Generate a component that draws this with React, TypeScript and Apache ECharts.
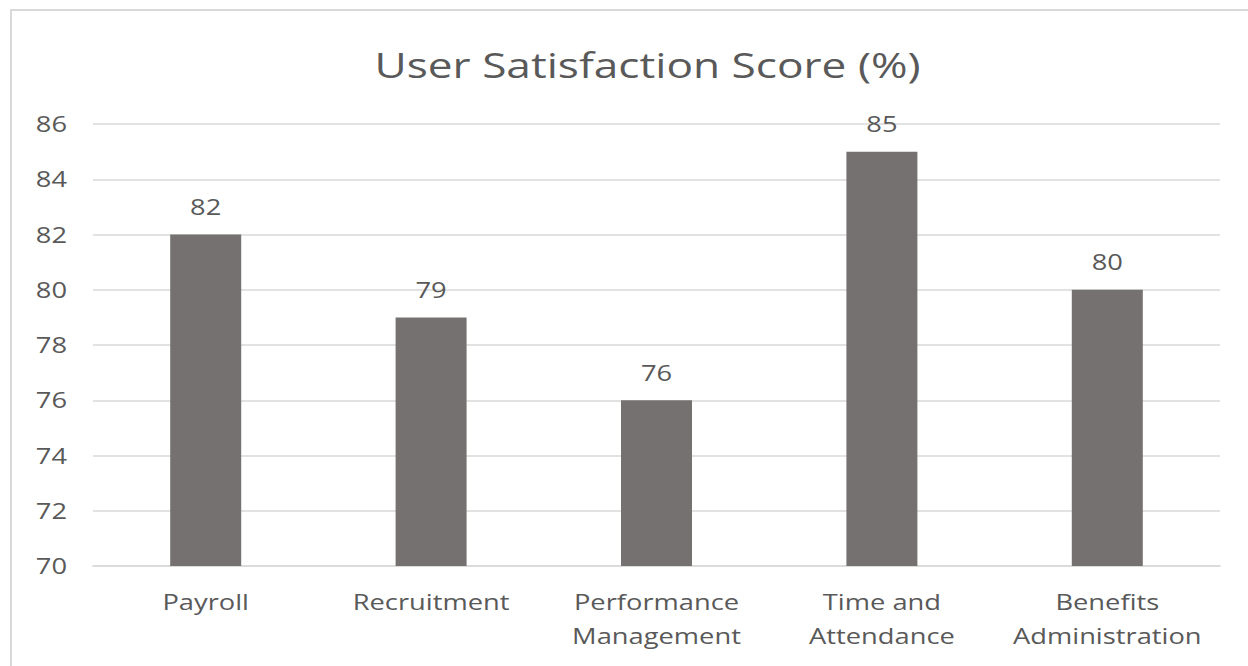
import React, { useEffect, useRef } from "react";
import * as echarts from "echarts";

const categories = ["Payroll", "Recruitment", "Performance\nManagement", "Time and\nAttendance", "Benefits\nAdministration"];
const scores = [82, 79, 76, 85, 80];
const titleText = "User Satisfaction Score (%)";

const SX = 1.3;
const W = 1248;
const H = 666;

export default function App() {
  const ref = useRef<HTMLDivElement>(null);
  useEffect(() => {
    if (!ref.current) return;
    const chart = echarts.init(ref.current, undefined, { renderer: "svg" });
    const font = "'Open Sans', 'Noto Sans', sans-serif";
    chart.setOption({
      animation: false,
      backgroundColor: "transparent",
      title: {
        text: titleText,
        left: 641 / SX,
        textAlign: "center",
        top: 43,
        textStyle: { fontFamily: font, fontSize: 34, fontWeight: "normal", color: "#595959" },
      },
      grid: { left: 93 / SX, right: 28 / SX, top: 124, bottom: 100 },
      xAxis: {
        type: "category",
        data: categories,
        axisLine: { show: true, lineStyle: { color: "#d9d9d9", width: 1.5 } },
        axisTick: { show: false },
        axisLabel: { fontFamily: font, fontSize: 21, color: "#595959", margin: 19, lineHeight: 34, interval: 0 },
      },
      yAxis: {
        type: "value",
        min: 70,
        max: 86,
        interval: 2,
        axisLine: { show: false },
        axisTick: { show: false },
        axisLabel: { fontFamily: font, fontSize: 21, color: "#595959", margin: 20 },
        splitLine: { lineStyle: { color: "#d9d9d9", width: 1.5 } },
      },
      series: [
        {
          type: "bar",
          data: scores,
          barWidth: "31.5%",
          itemStyle: { color: "#767171" },
          label: { show: true, position: "top", distance: 17, fontFamily: font, fontSize: 21, color: "#595959" },
        },
      ],
    });
    return () => chart.dispose();
  }, []);
  return (
    <div style={{ position: "fixed", left: 0, top: 0, width: W, height: H, background: "#fff", overflow: "hidden" }}>
      <div style={{ position: "absolute", left: 10, top: 9, width: 1300, height: 700, borderLeft: "2px solid #d9d9d9", borderTop: "2px solid #d9d9d9" }} />
      <div
        ref={ref}
        style={{ position: "absolute", left: 0, top: 0, width: W / SX, height: H, transform: `scaleX(${SX})`, transformOrigin: "0 0" }}
      />
    </div>
  );
}
